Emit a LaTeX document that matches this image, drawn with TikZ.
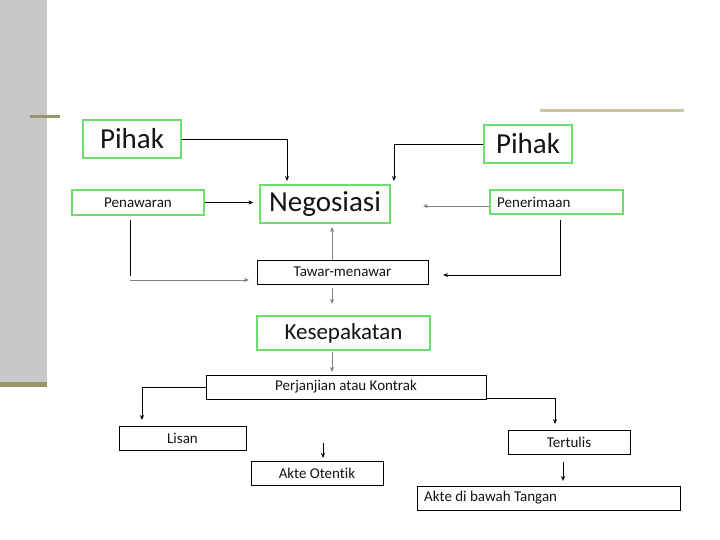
\documentclass[tikz,border=0pt]{standalone}
\usepackage{fontspec}
\setmainfont{Carlito}[Ligatures=NoCommon]
\usetikzlibrary{arrows.meta}
\definecolor{barg}{RGB}{200,200,200}
\definecolor{olive}{RGB}{150,150,105}
\definecolor{olivel}{RGB}{200,196,160}
\definecolor{boxg}{RGB}{110,220,110}
\definecolor{txt}{RGB}{20,20,20}
\tikzset{
  gbox/.style={draw=boxg,line width=1.3pt,inner sep=0pt,text=txt,fill=white},
  kbox/.style={draw=black,line width=0.9pt,inner sep=0pt,text=txt,fill=white},
  big/.style={font=\fontsize{29}{31}\selectfont},
  mid/.style={font=\fontsize{23}{25}\selectfont},
  sml/.style={font=\fontsize{15}{17}\selectfont},
  lbl/.style={inner sep=0pt,text=txt,anchor=west},
  con/.style={line width=0.9pt,-{Stealth[length=5pt,width=4pt]}},
  cong/.style={line width=0.6pt,draw=gray,-{Stealth[length=5pt,width=4pt]}},
  conn/.style={line width=0.9pt},
}
\begin{document}
\begin{tikzpicture}[x=1pt,y=-1pt]
\useasboundingbox (0,0) rectangle (720,540);
\fill[white] (0,0) rectangle (720,540);
% decoration
\fill[barg] (0,0) rectangle (47,382);
\fill[olive] (0,382) rectangle (47,387);
\draw[olive,line width=3pt] (30,117) -- (60,117);
\draw[olivel,line width=3pt] (540,111) -- (684,111);
% nodes
\node[gbox,big,minimum width=98,minimum height=38] (p1) at (132,139) {Pihak};
\node[gbox,big,minimum width=88,minimum height=38] (p2) at (528,144) {Pihak};
\node[gbox,sml,minimum width=132,minimum height=25] (pen) at (138,202.5) {Penawaran};
\node[gbox,big,minimum width=130,minimum height=38] (neg) at (325,204) {Negosiasi};
\node[gbox,minimum width=133,minimum height=24] (ter) at (556.5,202) {};
\node[lbl,sml] (tert) at (497,202) {Penerimaan};
\node[kbox,sml,minimum width=171,minimum height=24] (taw) at (342.5,272) {Tawar-menawar};
\node[gbox,mid,minimum width=173,minimum height=34] (kes) at (343.5,333) {Kesepakatan};
\node[kbox,sml,minimum width=280,minimum height=24] (per) at (346,387) {Perjanjian atau Kontrak};
\node[kbox,sml,minimum width=127,minimum height=24] (lis) at (182.5,438) {Lisan};
\node[kbox,sml,minimum width=132,minimum height=24] (ako) at (317,473) {Akte Otentik};
\node[kbox,sml,minimum width=122,minimum height=24] (tul) at (569,442) {Tertulis};
\node[kbox,minimum width=263,minimum height=24] (akb) at (548.5,498) {};
\node[lbl,sml] (akbt) at (424,498) {Akte di bawah Tangan};
% coordinates
\coordinate (a1) at (287,181);
\coordinate (a2) at (394,181);
\coordinate (b1) at (130,220);
\coordinate (b2) at (130,276);
\coordinate (b3) at (130,280);
\coordinate (b4) at (249,280);
\coordinate (c1) at (560,220);
\coordinate (c2) at (443,275);
\coordinate (d1) at (142,420);
\coordinate (d2) at (555,424);
\coordinate (e1) at (323,443);
\coordinate (e2) at (323,458);
\coordinate (f1) at (563,462);
\coordinate (f2) at (563,481);
% connectors
\draw[con] (p1.east) -| (a1);
\draw[con] (p2.west) -| (a2);
\draw[con,line width=1.3pt] (pen.east) -- ([xshift=-6]neg.west |- pen.east);
\draw[cong] (ter.west |- 0,206) -- (423,206);
\draw[conn] (b1) -- (b2);
\draw[cong] (b3) -- (b4);
\draw[con] (c1) |- (c2);
\draw[cong] (taw.north -| 332,0) -- (332,227);
\draw[cong] (332,288) -- (332,304);
\draw[cong] (332,352) -- (332,372);
\draw[con] (per.west) -| (d1);
\draw[con] (per.east |- 0,398) -| (d2);
\draw[con] (e1) -- (e2);
\draw[con] (f1) -- (f2);
\end{tikzpicture}
\end{document}
